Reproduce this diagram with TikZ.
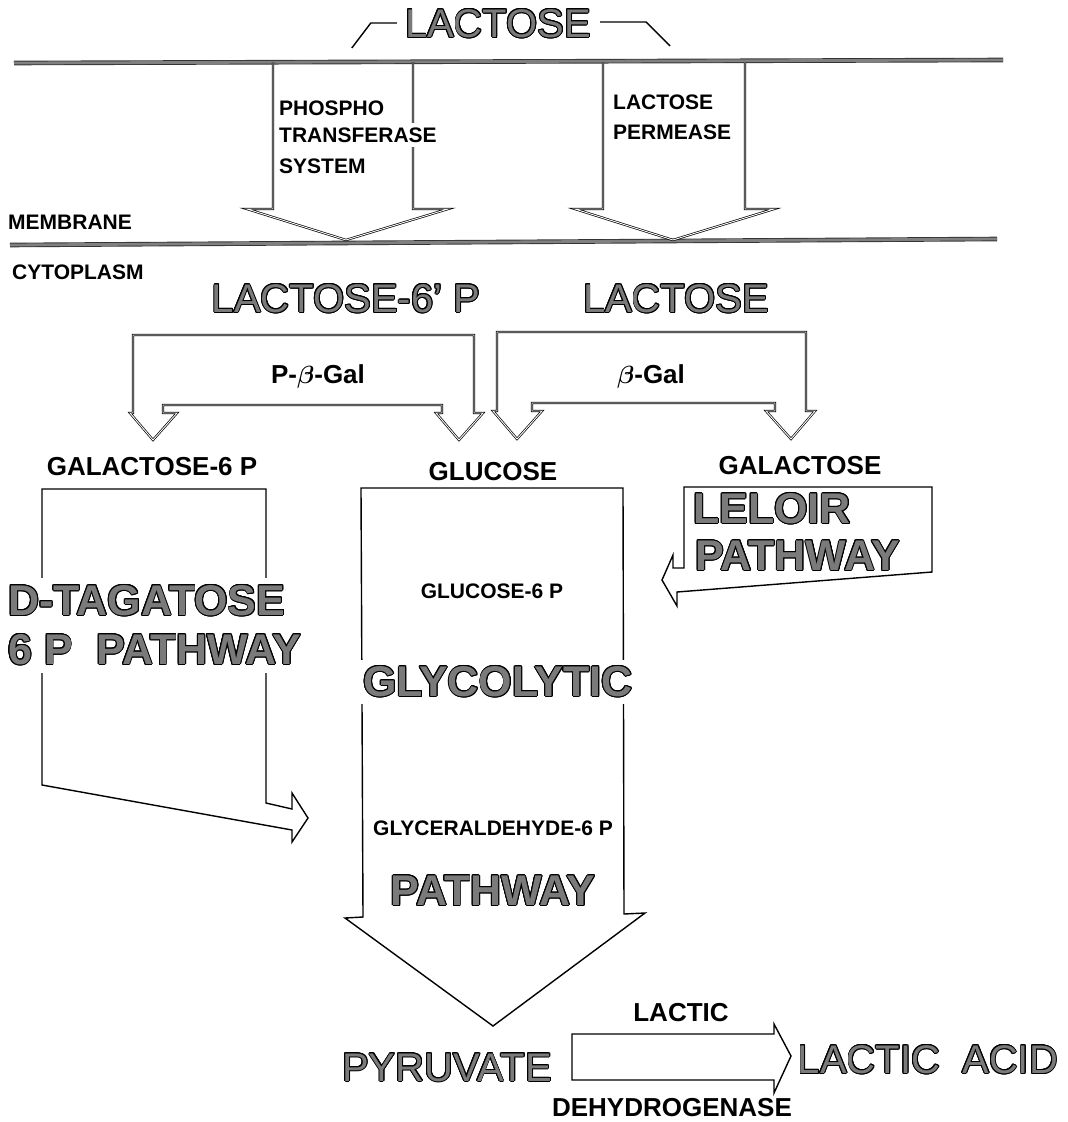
\documentclass[tikz,border=0pt]{standalone}
\usepackage{amsmath}
\usepackage{fontspec}
\setmainfont{Liberation Sans}
\usepackage{contour}
\contourlength{0.9pt}
\usetikzlibrary{calc,positioning}
\definecolor{halftone}{gray}{0.48}
\newcommand{\shaded}[1]{\contour{black}{#1}}

\begin{document}
\begin{tikzpicture}[x=1pt,y=-1pt]
\tikzstyle{lbl}=[font=\fontsize{21}{29.5}\selectfont\bfseries, inner sep=0pt]
\tikzstyle{mid}=[font=\fontsize{26}{30}\selectfont\bfseries, inner sep=0pt]
\tikzstyle{big}=[font=\fontsize{40}{46}\selectfont, text=halftone, inner sep=0pt]
\tikzstyle{huge}=[font=\fontsize{43}{49}\selectfont\bfseries, text=halftone, inner sep=0pt]
\tikzstyle{membrane}=[draw=black!80, double=black!50, double distance=2.8pt, line width=0.9pt]
\tikzstyle{dbl}=[double, double distance=0.9pt, line width=0.7pt, line join=miter]
\tikzstyle{outline}=[line width=1.4pt, line join=miter]
\useasboundingbox (0,0) rectangle (1068,1122);

% membrane
\draw[membrane] (14,63) -- (1003,60);
\draw[membrane] (10,245) -- (997,239);
\node[lbl, anchor=west] (membr) at (8,222) {MEMBRANE};
\node[lbl, anchor=west] (cyto) at (12,272) {CYTOPLASM};

% lactose outside
\node[big] (lacout) at (498,24) {\shaded{LACTOSE}};
\draw[outline] ($(lacout.west)+(-8,-1)$) -- +(-26,0) -- +(-45,25);
\draw[outline] ($(lacout.east)+(9,-2)$) -- +(46,0) -- +(70,24);

% transport arrows
\foreach \l/\r/\hl/\hr/\tip in {273/413/247/448/346, 603/745/575/774/673}
    \draw[dbl] (\l,62) -- (\l,209) -- (\hl,209) -- (\tip,240) -- (\hr,209) -- (\r,209) -- (\r,62);
\node[lbl, anchor=west] (pts1) at (279,108) {PHOSPHO};
\node[lbl, anchor=west, fill=white, inner ysep=5pt] (pts2) at (279,135) {TRANSFERASE};
\node[lbl, anchor=west] (pts3) at (279,166) {SYSTEM};
\node[lbl, anchor=north west, align=left] (perm) at (613,95) {LACTOSE\\PERMEASE};

% cytoplasm sugars
\node[big] (lac6p) at (346,299) {\shaded{LACTOSE-6' P}};
\node[big] (lacin) at (676,299) {\shaded{LACTOSE}};

% hydrolases
\draw[dbl] (133,335) -- (133,413) -- (130,413) -- (153,440) -- (177,413) -- (163,413) -- (163,405)
    -- (442,405) -- (442,413) -- (436,413) -- (459,440) -- (483,413) -- (474,413) -- (474,335) -- cycle;
\draw[dbl] (497,332) -- (497,411) -- (493,411) -- (517,439) -- (542,411) -- (532,411) -- (532,403)
    -- (775,403) -- (775,411) -- (766,411) -- (791,439) -- (815,411) -- (806,411) -- (806,332) -- cycle;
\node[mid, anchor=base] (pgal) at (318,383) {P-$\boldsymbol{\beta}$-Gal};
\node[mid, anchor=base] (bgal) at (651,383) {$\boldsymbol{\beta}$-Gal};

\node[mid] (gal6p) at (152,467) {GALACTOSE-6 P};
\node[mid] (gluc) at (493,472) {GLUCOSE};
\node[mid] (gal) at (800,466) {GALACTOSE};

% tagatose pathway
\draw[outline] (42,489) -- (266,489) -- (266,803) -- (292,809) -- (292,793) -- (308,818)
    -- (292,842) -- (292,830) -- (42,785) -- cycle;
\node[huge, fill=white, align=left, anchor=north west, inner sep=7pt] (tagatose) at (1,578)
    {\shaded{D-TAGATOSE}\\\shaded{6 P\ \ PATHWAY}};

% leloir pathway
\draw[outline] (684,487) -- (932,487) -- (932,572) -- (677,592) -- (677,606) -- (662,580)
    -- (673,555) -- (673,568) -- (684,568) -- cycle;
\node[huge, anchor=west] (leloir) at (693,509) {\shaded{LELOIR}};
\node[huge, anchor=west] (lelpath) at (695,556) {\shaded{PATHWAY}};

% glycolytic pathway
\draw[outline] (361,488) -- (623,488) -- (624,914) -- (645,913) -- (493,1026) -- (345,918) -- (363,917) -- cycle;
\node[lbl] (g6p) at (492,591) {GLUCOSE-6 P};
\node[huge, fill=white, inner sep=6pt] (glyco) at (498,682) {\shaded{GLYCOLYTIC}};
\node[lbl] (gap) at (493,828) {GLYCERALDEHYDE-6 P};
\node[huge] (glypath) at (493,891) {\shaded{PATHWAY}};

% lactate
\node[big] (pyr) at (447,1068) {\shaded{PYRUVATE}};
\draw[outline] (572,1034) -- (774,1034) -- (774,1024) -- (791,1056) -- (774,1093) -- (774,1080) -- (572,1080) -- cycle;
\node[big] (lacacid) at (928,1060) {\shaded{LACTIC\ \ ACID}};
\node[mid] (ldh1) at (681,1013) {LACTIC};
\node[mid] (ldh2) at (672,1108) {DEHYDROGENASE};
\end{tikzpicture}
\end{document}
